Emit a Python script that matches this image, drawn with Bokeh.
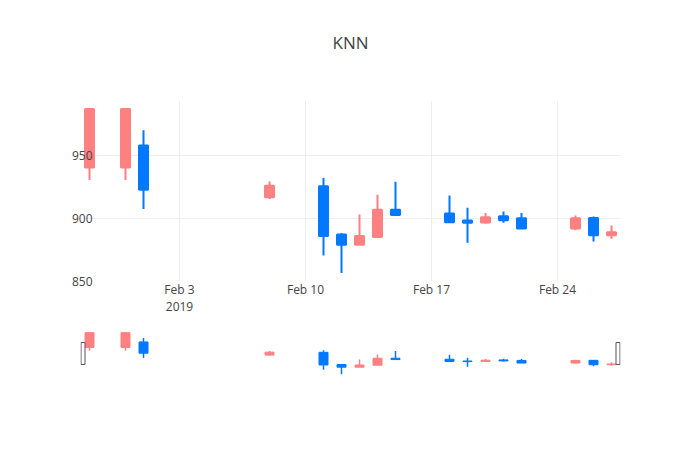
import pandas as pd
from bokeh.embed import file_html
from bokeh.layouts import column
from bokeh.models import ColumnDataSource, FixedTicker, LinearAxis, Range1d
from bokeh.plotting import figure
from bokeh.resources import INLINE

# KNN daily prices, Jan 29 - Feb 27 2019
dates = ["2019-01-29", "2019-01-31", "2019-02-01", "2019-02-08", "2019-02-11",
         "2019-02-12", "2019-02-13", "2019-02-14", "2019-02-15", "2019-02-18",
         "2019-02-19", "2019-02-20", "2019-02-21", "2019-02-22", "2019-02-25",
         "2019-02-26", "2019-02-27"]
opens = [940.7, 940.7, 958.2, 916.9, 925.7, 887.3, 879.1, 885.2, 907.1,
         904.0, 898.4, 896.8, 901.8, 900.2, 892.0, 900.5, 886.7]
highs = [987.3, 987.3, 970.4, 929.6, 932.3, 888.3, 903.2, 919.0, 929.4,
         918.3, 908.5, 904.5, 905.6, 904.5, 902.4, 901.6, 894.4]
lows = [930.7, 930.7, 907.7, 915.6, 870.6, 856.6, 879.1, 885.2, 902.9,
        897.0, 880.7, 896.0, 896.6, 892.0, 890.7, 881.7, 883.9]
closes = [987.3, 987.3, 923.0, 926.2, 886.0, 879.1, 886.0, 907.1, 902.9,
          897.0, 896.6, 901.0, 898.7, 892.0, 900.2, 886.7, 889.1]

x_ticks = ["2019-02-03", "2019-02-10", "2019-02-17", "2019-02-24"]
x_tick_labels = ["Feb 3\n2019", "Feb 10", "Feb 17", "Feb 24"]
y_ticks = [850, 900, 950]

INC_COLOR = "#ff8080"
DEC_COLOR = "#0078ff"
FONT = "Open Sans"
TEXT_COLOR = "#444444"

DAY = 24 * 60 * 60 * 1000

df = pd.DataFrame({
    "date": pd.to_datetime(dates),
    "open": opens, "high": highs, "low": lows, "close": closes,
})
df["top"] = df[["open", "close"]].max(axis=1)
df["bottom"] = df[["open", "close"]].min(axis=1)
df["color"] = [INC_COLOR if c > o else DEC_COLOR for o, c in zip(opens, closes)]
source = ColumnDataSource(df)

# plotly-like autorange: half a day of padding on x, ~5% on y
x_start = df["date"].min() - pd.Timedelta(hours=12)
x_end = df["date"].max() + pd.Timedelta(hours=12)
pad = 0.052 * (max(highs) - min(lows))
x_range = Range1d(x_start, x_end)
y_range = Range1d(min(lows) - pad, max(highs) + pad)

p = figure(
    title="KNN",
    width=700, height=326,
    x_axis_type="datetime",
    x_range=x_range, y_range=y_range,
    toolbar_location=None, tools="",
    output_backend="svg",
    min_border_left=80, min_border_right=80,
    min_border_top=100, min_border_bottom=45,
)
p.outline_line_color = None

p.title.align = "center"
p.title.text_font = FONT
p.title.text_font_size = "17px"
p.title.text_font_style = "normal"
p.title.text_color = TEXT_COLOR
p.title.standoff = 10

p.segment(x0="date", y0="high", x1="date", y1="low", source=source,
          line_color="color", line_width=2)
p.vbar(x="date", top="top", bottom="bottom", width=0.5 * DAY, source=source,
       fill_color="color", line_color="color", line_width=2)

tick_ms = [pd.Timestamp(t).value // 10**6 for t in x_ticks]
p.xaxis.ticker = FixedTicker(ticks=tick_ms)
p.xaxis.major_label_overrides = dict(zip(tick_ms, x_tick_labels))
p.yaxis.ticker = FixedTicker(ticks=y_ticks)

for ax in (p.xaxis, p.yaxis):
    ax.axis_line_color = None
    ax.major_tick_line_color = None
    ax.minor_tick_line_color = None
    ax.major_tick_out = 0
    ax.major_tick_in = 0
    ax.minor_tick_out = 0
    ax.major_label_text_font = FONT
    ax.major_label_text_font_size = "12px"
    ax.major_label_text_color = TEXT_COLOR
p.xaxis.major_label_standoff = -1
p.xaxis.major_label_text_line_height = 1.0
p.yaxis.major_label_standoff = -12

p.xgrid.grid_line_color = "#eeeeee"
p.ygrid.grid_line_color = "#eeeeee"
p.ygrid.ticker = FixedTicker(ticks=y_ticks[1:])

# blank axis on top (one hidden tick, empty label), only pushes the title up
spacer = LinearAxis(
    ticker=FixedTicker(ticks=tick_ms[:1]),
    major_label_overrides={tick_ms[0]: ""},
    major_label_text_font_size="0px",
    axis_line_color=None,
    major_tick_line_color=None, minor_tick_line_color=None,
    major_tick_out=42, major_tick_in=0, minor_tick_out=0,
    major_label_standoff=0,
)
p.add_layout(spacer, "above")

# range slider underneath
s = figure(
    width=700, height=60,
    x_axis_type="datetime",
    x_range=x_range, y_range=Range1d(y_range.start, y_range.end),
    toolbar_location=None, tools="",
    output_backend="svg",
    min_border_left=80, min_border_right=80,
    min_border_top=4, min_border_bottom=10,
)
s.outline_line_color = None
s.axis.visible = False
s.grid.grid_line_color = None
s.segment(x0="date", y0="high", x1="date", y1="low", source=source,
          line_color="color", line_width=1.5)
s.vbar(x="date", top="top", bottom="bottom", width=0.5 * DAY, source=source,
       fill_color="color", line_color="color", line_width=1)

# slider grab handles at both ends of the visible range
px = (x_end - x_start) / 540
handles = ColumnDataSource(dict(
    x=[x_start + 2.5 * px, x_end - 2.5 * px],
    y=[(y_range.start + y_range.end) / 2] * 2,
))
s.rect(x="x", y="y", width=4, height=22, width_units="screen",
       height_units="screen", source=handles,
       fill_color="white", line_color="#555555", line_width=1)

layout = column(p, s)
open("out.html", "w").write(file_html(layout, INLINE))
